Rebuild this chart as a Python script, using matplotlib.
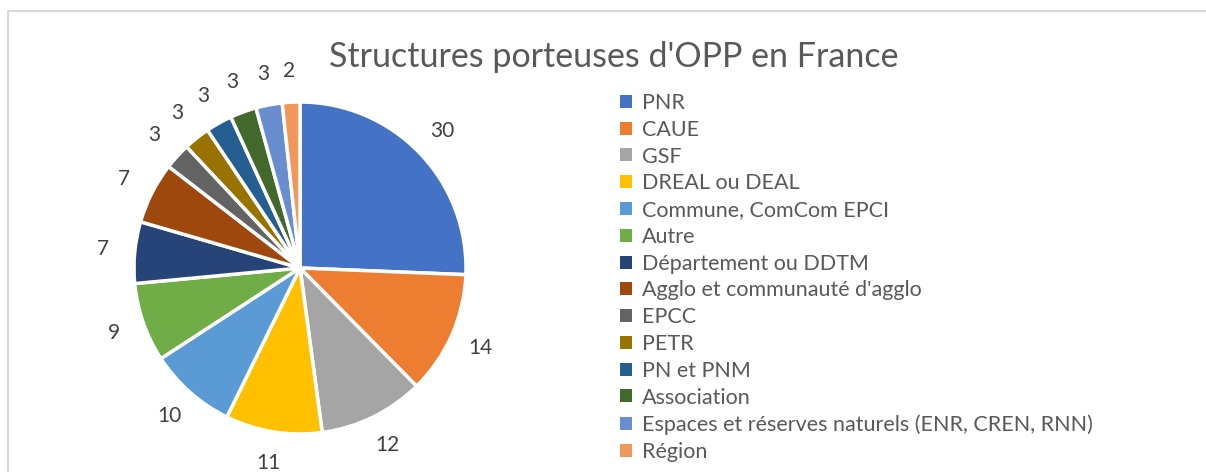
import matplotlib.pyplot as plt
from matplotlib.patches import Patch, Rectangle

categories = ['PNR', 'CAUE', 'GSF', 'DREAL ou DEAL', 'Commune, ComCom EPCI', 'Autre',
              'Département ou DDTM', "Agglo et communauté d'agglo", 'EPCC', 'PETR',
              'PN et PNM', 'Association', 'Espaces et réserves naturels (ENR, CREN, RNN)',
              'Région']
values = [30, 14, 12, 11, 10, 9, 7, 7, 3, 3, 3, 3, 3, 2]
colors = ['#4472C4', '#ED7D31', '#A5A5A5', '#FFC000', '#5B9BD5', '#70AD47', '#264478',
          '#9E480E', '#636363', '#997300', '#255E91', '#43682B', '#698ED0', '#F1975A']

plt.rcParams['font.family'] = ['Lato', 'DejaVu Sans']

W, H = 1206, 472
fig = plt.figure(figsize=(W / 100, H / 100), dpi=100)

# chart area border (only top and left are visible in the crop)
fig.patches.append(Rectangle((8 / W, -0.1), 1.2, (H - 11) / H + 0.1, transform=fig.transFigure,
                             fill=False, edgecolor='#D9D9D9', linewidth=1.5))

cx, cy, R, half = 300, 268, 166, 200
ax = fig.add_axes([(cx - half) / W, (H - cy - half) / H, 2 * half / W, 2 * half / H])
wedges, texts = ax.pie(values, labels=[str(v) for v in values], colors=colors,
                       startangle=90, counterclock=False, labeldistance=1.19,
                       wedgeprops=dict(edgecolor='white', linewidth=2.5))
for t in texts:
    t.set_ha('center')
    t.set_va('center')
    t.set_fontsize(15)
    t.set_color('#404040')
ax.set_xlim(-half / R, half / R)
ax.set_ylim(-half / R, half / R)
ax.set_aspect('equal')
ax.axis('off')

fig.text(614 / W, 1 - 57 / H, "Structures porteuses d'OPP en France", ha='center', va='center',
         fontsize=24.5, color='#595959')

handles = [Patch(facecolor=c, edgecolor='none') for c in colors]
fig.legend(handles, categories, loc='upper left', bbox_to_anchor=(620 / W, 1 - 93 / H),
           frameon=False, fontsize=15.5, labelcolor='#595959', handlelength=0.55,
           handleheight=0.55, handletextpad=0.45, labelspacing=0.315, borderpad=0,
           borderaxespad=0)

fig.savefig('out.png', dpi=100)
